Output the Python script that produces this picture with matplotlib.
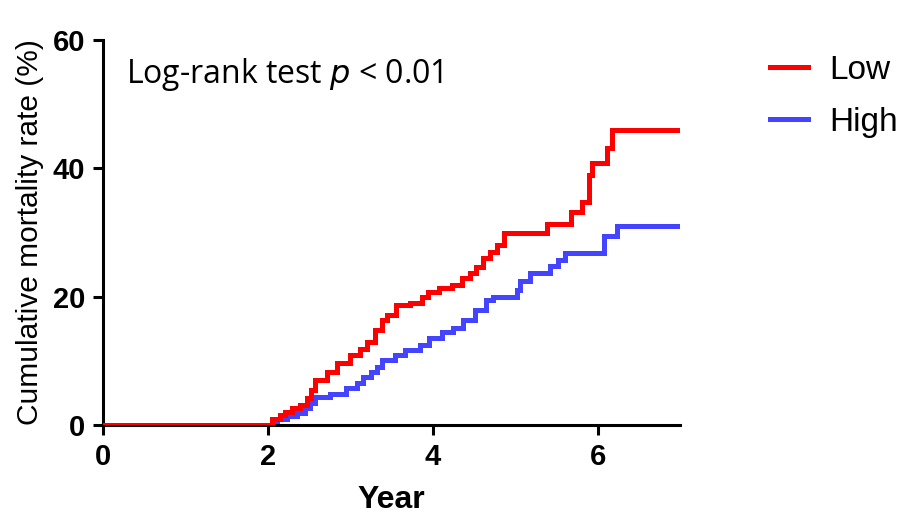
import numpy as np
import matplotlib
matplotlib.use('Agg')
from matplotlib import pyplot as plt

# step curves (year, cumulative mortality %)
low_years = [0, 2.05, 2.15, 2.21, 2.29, 2.39, 2.47, 2.52, 2.57, 2.72, 2.84, 3.00,
             3.12, 3.20, 3.30, 3.38, 3.44, 3.56, 3.72, 3.87, 3.94, 4.08, 4.23,
             4.35, 4.45, 4.53, 4.61, 4.69, 4.78, 4.87, 5.39, 5.68, 5.81, 5.89,
             5.93, 6.11, 6.18, 7.0]
low_rate = [0, 1.0, 1.6, 2.0, 2.6, 3.1, 4.2, 5.5, 7.0, 8.2, 9.6, 10.9,
            11.8, 13.0, 14.8, 16.4, 17.1, 18.7, 19.0, 20.0, 20.7, 21.3, 21.8,
            22.9, 23.7, 24.6, 26.0, 27.0, 28.0, 30.0, 31.4, 33.2, 34.7, 39.0,
            40.8, 43.1, 46.0, 46.0]

high_years = [0, 2.06, 2.11, 2.23, 2.35, 2.45, 2.51, 2.57, 2.75, 2.95, 3.08, 3.15,
              3.25, 3.32, 3.39, 3.54, 3.66, 3.84, 3.96, 4.11, 4.24, 4.37, 4.51,
              4.65, 4.73, 5.02, 5.06, 5.18, 5.42, 5.52, 5.60, 6.08, 6.23, 7.0]
high_rate = [0, 0.5, 1.0, 1.4, 1.9, 2.6, 3.5, 4.4, 4.8, 5.8, 6.5, 7.5,
             8.3, 9.0, 10.1, 10.9, 11.7, 12.5, 13.6, 14.5, 15.1, 16.4, 17.9,
             19.5, 20.0, 21.0, 22.4, 23.7, 24.8, 25.7, 26.8, 29.5, 31.0, 31.0]

x_ticks = [0, 2, 4, 6]
y_ticks = [0, 20, 40, 60]

tick_font = ['Liberation Sans Narrow', 'Liberation Sans', 'DejaVu Sans']
sans = ['Liberation Sans', 'DejaVu Sans']

fig = plt.figure(figsize=(9, 5.18), dpi=100)
ax = fig.add_axes([0.1144, 0.1795, 0.6412, 0.7433])

ax.step(low_years, low_rate, where='post', color='#ff0000', lw=3.6,
        label='Low', solid_joinstyle='miter', zorder=3)
ax.step(high_years, high_rate, where='post', color='#4444ff', lw=3.6,
        label='High', solid_joinstyle='miter', zorder=2)

ax.set_xlim(0, 7)
ax.set_ylim(0, 60)
ax.set_xticks(x_ticks)
ax.set_yticks(y_ticks)
for s in ['top', 'right']:
    ax.spines[s].set_visible(False)
for s in ['left', 'bottom']:
    ax.spines[s].set_linewidth(2.2)
ax.tick_params(direction='out', length=7, width=2.2, pad=6)
for lbl in ax.get_xticklabels() + ax.get_yticklabels():
    lbl.set_fontfamily(tick_font)
    lbl.set_fontweight('bold')
    lbl.set_fontsize(21)

ax.set_xlabel('Year', fontsize=23, fontweight='bold', family=sans, labelpad=10)
ax.set_ylabel('Cumulative mortality rate (%)', fontsize=21.5, family=sans,
              labelpad=6)

ax.text(0.04, 0.91, 'Log-rank test $p$ < 0.01', transform=ax.transAxes,
        fontsize=23, family=['Open Sans', 'DejaVu Sans'], va='center')

ax.legend(loc='upper left', bbox_to_anchor=(1.115, 1.022), frameon=False,
          handlelength=1.15, handletextpad=0.65, labelspacing=0.62,
          borderaxespad=0.3, prop={'family': sans, 'size': 24})

fig.savefig('out.png', dpi=100)
